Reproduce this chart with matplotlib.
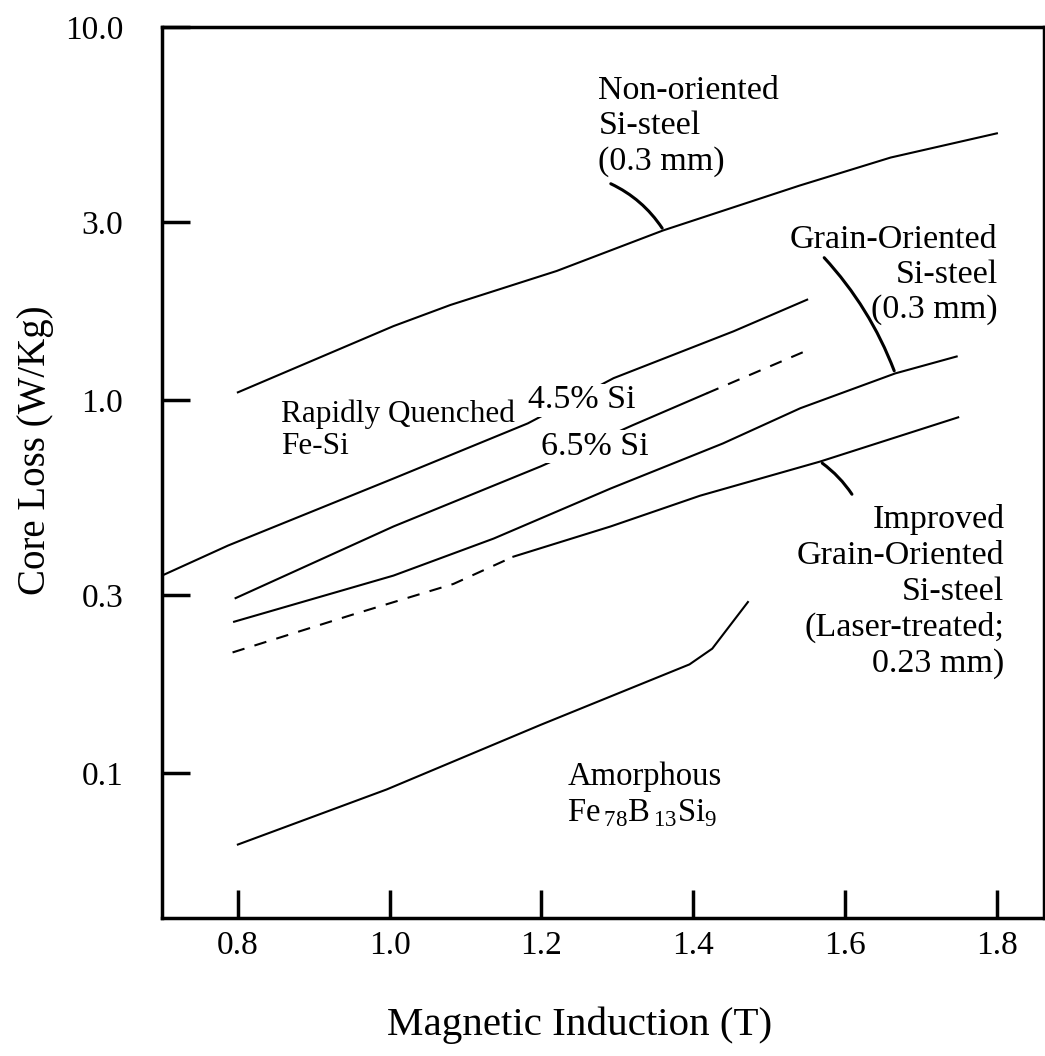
import matplotlib.pyplot as plt

plt.rcParams['font.family'] = ['Liberation Serif', 'DejaVu Serif']
plt.rcParams['mathtext.fontset'] = 'custom'
plt.rcParams['mathtext.rm'] = 'Liberation Serif'

# curves: induction B (T) vs core loss (W/kg)
non_oriented_b = [0.80, 1.005, 1.08, 1.22, 1.36, 1.54, 1.66, 1.80]
non_oriented_w = [1.05, 1.58, 1.80, 2.22, 2.85, 3.76, 4.47, 5.19]

rq45_b = [0.70, 0.787, 1.005, 1.182, 1.295, 1.453, 1.55]
rq45_w = [0.339, 0.408, 0.617, 0.867, 1.146, 1.53, 1.86]

rq65_b = [0.797, 1.005, 1.199, 1.32, 1.418]
rq65_w = [0.295, 0.459, 0.665, 0.857, 1.044]
rq65_ext_b = [1.418, 1.55]
rq65_ext_w = [1.044, 1.36]

go_b = [0.795, 1.005, 1.137, 1.291, 1.439, 1.541, 1.666, 1.747]
go_w = [0.255, 0.339, 0.426, 0.580, 0.766, 0.952, 1.18, 1.31]

improved_low_b = [0.793, 0.95, 1.084, 1.163]
improved_low_w = [0.211, 0.266, 0.322, 0.381]
improved_b = [1.163, 1.291, 1.409, 1.567, 1.749]
improved_w = [0.381, 0.459, 0.555, 0.685, 0.90]

amorphous_b = [0.80, 0.996, 1.199, 1.395, 1.425, 1.472]
amorphous_w = [0.0645, 0.0906, 0.135, 0.196, 0.216, 0.288]

x_ticks = [0.8, 1.0, 1.2, 1.4, 1.6, 1.8]
x_labels = ['0.8', '1.0', '1.2', '1.4', '1.6', '1.8']
y_ticks = [0.1, 0.3, 1.0, 3.0, 10.0]
y_labels = ['0.1', '0.3', '1.0', '3.0', '10.0']

fig = plt.figure(figsize=(10.45, 10.56), dpi=100)
ax = fig.add_axes([0.155, 0.1307, 0.844, 0.8437])
ax.set_yscale('log')

lw = 1.5
ax.plot(non_oriented_b, non_oriented_w, color='black', lw=lw)
ax.plot(rq45_b, rq45_w, color='black', lw=lw)
ax.plot(rq65_b, rq65_w, color='black', lw=lw)
ax.plot(rq65_ext_b, rq65_ext_w, color='black', lw=lw, dashes=(6, 5))
ax.plot(go_b, go_w, color='black', lw=lw)
ax.plot(improved_low_b, improved_low_w, color='black', lw=lw, dashes=(6, 5))
ax.plot(improved_b, improved_w, color='black', lw=lw)
ax.plot(amorphous_b, amorphous_w, color='black', lw=lw)

ax.set_xlim(0.70, 1.862)
ax.set_ylim(0.041, 10.0)
ax.set_xticks(x_ticks)
ax.set_xticklabels(x_labels)
ax.set_yticks(y_ticks)
ax.set_yticklabels(y_labels)
ax.minorticks_off()
ax.tick_params(direction='in', length=20, width=2.5, labelsize=24)
ax.tick_params(axis='x', pad=9)
ax.tick_params(axis='y', pad=28)
for s in ax.spines.values():
    s.set_linewidth(2.5)

ax.set_xlabel('Magnetic Induction (T)', fontsize=29.5, va='center')
ax.xaxis.set_label_coords(0.474, -0.120)
ax.set_ylabel('Core Loss (W/Kg)', fontsize=28, va='center')
ax.yaxis.set_label_coords(-0.143, 0.525)

fs = 24.5
box = dict(facecolor='white', edgecolor='none', pad=1)
ax.text(1.275, 5.42, 'Non-oriented\nSi-steel\n(0.3 mm)', fontsize=fs,
        ha='left', va='center', linespacing=1.2)
ax.text(1.801, 2.17, 'Grain-Oriented\nSi-steel\n(0.3 mm)', fontsize=fs,
        ha='right', va='center', multialignment='right', linespacing=1.18)
ax.text(0.857, 0.831, 'Rapidly Quenched\nFe-Si', fontsize=22.5,
        ha='left', va='center', linespacing=1.12)
ax.text(1.182, 1.0, '4.5% Si', fontsize=fs, ha='left', va='center',
        bbox=box, zorder=3)
ax.text(1.199, 0.752, '6.5% Si', fontsize=fs, ha='left', va='center',
        bbox=box, zorder=3)
ax.text(1.81, 0.307, 'Improved\nGrain-Oriented\nSi-steel\n(Laser-treated;\n0.23 mm)',
        fontsize=fs, ha='right', va='center', multialignment='right',
        linespacing=1.22)
ax.text(1.234, 0.0875, 'Amorphous\nFe$_{\\,78}$B$_{\\,13}$Si$_9$', fontsize=23.5,
        ha='left', va='center', linespacing=1.2)

# leader lines from labels to curves
leader = dict(arrowstyle='-', color='black', lw=2.2)
ax.annotate('', xy=(1.361, 2.85), xytext=(1.288, 3.83),
            arrowprops=dict(leader, connectionstyle='arc3,rad=-0.15'))
ax.annotate('', xy=(1.666, 1.18), xytext=(1.570, 2.44),
            arrowprops=dict(leader, connectionstyle='arc3,rad=-0.1'))
ax.annotate('', xy=(1.567, 0.685), xytext=(1.611, 0.552),
            arrowprops=dict(leader, connectionstyle='arc3,rad=0.1'))

fig.savefig('out.png', dpi=100)
